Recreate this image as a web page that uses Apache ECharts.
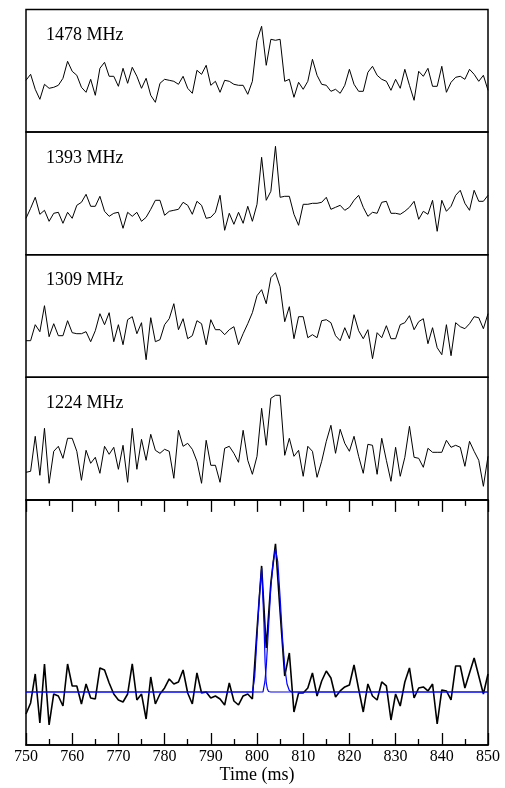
<!DOCTYPE html>
<html><head><meta charset="utf-8">
<script src="https://cdn.jsdelivr.net/npm/echarts@6/dist/echarts.min.js"></script>
<style>html,body{margin:0;padding:0;background:#fff}#c{width:505px;height:788px}</style>
</head><body><div id="c"></div><script>
const times = [750,751,752,753,754,755,756,757,758,759,760,761,762,763,764,765,766,767,768,769,770,771,772,773,774,775,776,777,778,779,780,781,782,783,784,785,786,787,788,789,790,791,792,793,794,795,796,797,798,799,800,801,802,803,804,805,806,807,808,809,810,811,812,813,814,815,816,817,818,819,820,821,822,823,824,825,826,827,828,829,830,831,832,833,834,835,836,837,838,839,840,841,842,843,844,845,846,847,848,849,850];
const freqLabels = ['1478 MHz','1393 MHz','1309 MHz','1224 MHz'];
const flux1478 = [3,9,-6,-16,-1,-5,-4,-2,5,22,12,8,-4,-9,4,-12,15,21,7,7,-3,15,0,16,7,-5,5,-12,-19,0,4,3,2,-1,7,-5,-10,13,9,18,-2,2,-9,3,2,-1,-2,-2,-11,2,43,57,18,44,43,44,2,4,-14,1,-6,2,24,8,-1,-2,-8,-6,-10,-2,14,-1,-8,-8,11,17,8,4,2,-7,4,-5,14,-2,-17,12,7,15,-3,-3,17,-9,1,6,7,4,14,9,2,8,-7];
const flux1393 = [-5,5,16,-1,3,-8,0,1,-10,1,-5,8,11,19,7,7,17,2,-3,0,1,-15,1,-3,1,-8,-4,4,13,13,-2,2,3,4,11,8,-1,12,8,-5,-4,1,18,-17,0,-11,1,-10,7,-8,9,56,13,22,67,16,17,17,-1,-12,9,9,10,10,11,16,4,6,8,3,6,13,18,6,-3,1,0,11,12,0,0,-1,2,6,12,-6,2,-1,13,-18,13,2,7,18,23,10,3,23,12,12,18];
const flux1309 = [-9,-9,7,0,26,-5,8,-4,-4,11,-1,-2,-2,0,-10,1,18,7,19,-10,7,-13,12,15,-2,9,-28,14,-10,-8,7,13,28,2,13,-7,-4,11,8,-13,12,2,2,-3,2,5,-13,-2,8,19,36,42,28,54,59,45,10,25,-7,15,15,-6,-3,-6,11,12,9,-4,-9,4,-7,17,1,-7,2,-27,-1,-6,6,-7,-7,7,9,16,2,10,13,-12,4,-16,-23,7,-24,9,5,3,8,15,14,3,18];
const flux1224 = [-14,-13,22,-17,30,-25,7,12,0,20,20,7,-22,8,-5,1,-15,12,4,11,-11,13,-24,30,-11,19,-2,24,8,5,9,7,-20,28,12,15,9,-3,-25,18,-7,-7,-24,10,12,5,-4,28,-2,-16,2,50,13,60,63,63,3,20,2,8,-18,12,7,-19,-3,17,33,5,29,15,7,22,2,-15,14,13,-16,20,-2,-23,11,-18,1,32,1,0,-9,10,6,6,6,18,11,13,11,-8,17,7,-2,-28,2];
const fluxSum = [-2.2,-1.1,1.8,-3.1,2.8,-3.3,-0.2,-0.4,-1.4,2.8,0.6,0.6,-1.2,0.8,-0.6,-0.7,2.4,2.2,0.9,-0.2,-0.8,-1.0,-0.2,2.8,-0.8,-0.2,-2.7,1.5,-1.2,-0.2,0.4,1.3,0.8,1.0,2.2,-0.1,-1.2,1.9,-0.1,0.0,-0.6,-0.4,-0.7,-1.3,0.9,-0.9,-1.3,-0.4,-0.2,-0.7,6.2,12.6,4.4,10.9,14.8,8.0,1.6,3.9,-2.0,-0.1,-0.1,0.4,1.9,-0.4,1.1,2.1,1.4,-0.5,0.1,0.5,0.7,2.7,0.3,-2.0,0.8,-0.4,-0.8,1.0,0.6,-2.8,-0.2,-1.4,1.0,2.4,-0.6,0.4,0.5,0.1,0.8,-3.2,0.2,0.1,-0.8,2.6,2.6,0.4,1.9,3.4,1.6,-0.2,1.8];
const modelATimes = [750,799,799.25,799.5,800,800.5,801,801.5,801.75,802,802.25,802.5,803,850];
const modelAValues = [0,0,0.1,1.5,5.5,9.5,12.4,7,3,0.9,0.3,0.05,0,0];
const modelBTimes = [750,801.3,801.7,802,802.5,803,803.5,804,804.5,805,805.5,806,806.5,807,807.5,850];
const modelBValues = [0,0,1,2.5,6.5,10.5,13,14.3,13,9.5,5.5,2.5,0.8,0.15,0,0];
const xTickMin = 750, xTickMax = 850, xTickStep = 10;

const pairs = (xs, ys) => xs.map((x, i) => [x, ys[i]]);
const panels = [flux1478, flux1393, flux1309, flux1224];
const panelTops = [9.5, 132.1, 254.7, 377.3];
const panelH = 122.6;
const yRanges = [[-48.8, 73.8], [-41.4, 81.2], [-45.6, 77.0], [-41.6, 81.0]];
const serif = '"Liberation Serif", "Times New Roman", serif';

const grids = [], xAxes = [], yAxes = [], series = [], graphics = [];
panels.forEach((vals, i) => {
  grids.push({left: 26, width: 462, top: panelTops[i], height: panelH, show: true, borderColor: '#000', borderWidth: 1.5, backgroundColor: 'transparent'});
  xAxes.push({type: 'value', gridIndex: i, min: xTickMin, max: xTickMax, show: false});
  yAxes.push({type: 'value', gridIndex: i, min: yRanges[i][0], max: yRanges[i][1], show: false});
  series.push({type: 'line', xAxisIndex: i, yAxisIndex: i, data: pairs(times, vals), showSymbol: false, symbol: 'none',
    lineStyle: {color: '#000', width: 1}, silent: true});
  graphics.push({type: 'text', left: 46, top: panelTops[i] + 17, style: {text: freqLabels[i], font: '18px ' + serif, fill: '#000'}});
});
// bottom panel
grids.push({left: 26, width: 462, top: 499.9, height: 245.1, show: true, borderColor: '#000', borderWidth: 1.5, backgroundColor: 'transparent'});
const tickCommon = {
  axisTick: {show: true, inside: true, length: 12, lineStyle: {color: '#000', width: 1.3}},
  minorTick: {show: true, splitNumber: 2, length: 6, lineStyle: {color: '#000', width: 1.3}},
  splitLine: {show: false}, minorSplitLine: {show: false},
  axisLine: {show: true, onZero: false, lineStyle: {color: '#000', width: 1.5}}
};
xAxes.push(Object.assign({type: 'value', gridIndex: 4, min: xTickMin, max: xTickMax, interval: xTickStep, position: 'bottom',
  axisLabel: {show: true, color: '#000', fontFamily: serif, fontSize: 16, margin: 4, showMinLabel: true, showMaxLabel: true},
  name: 'Time (ms)', nameLocation: 'middle', nameGap: 19,
  nameTextStyle: {color: '#000', fontFamily: serif, fontSize: 18}}, tickCommon));
xAxes.push(Object.assign({type: 'value', gridIndex: 4, min: xTickMin, max: xTickMax, interval: xTickStep, position: 'top',
  axisLabel: {show: false}}, tickCommon));
yAxes.push({type: 'value', gridIndex: 4, min: -5.3, max: 19.2, show: false});
series.push({type: 'line', xAxisIndex: 4, yAxisIndex: 4, data: pairs(times, fluxSum), showSymbol: false, symbol: 'none',
  lineStyle: {color: '#000', width: 1.6}, silent: true});
series.push({type: 'line', xAxisIndex: 4, yAxisIndex: 4, data: pairs(modelATimes, modelAValues), showSymbol: false, symbol: 'none',
  lineStyle: {color: '#0000ff', width: 1.2}, silent: true});
series.push({type: 'line', xAxisIndex: 4, yAxisIndex: 4, data: pairs(modelBTimes, modelBValues), showSymbol: false, symbol: 'none',
  lineStyle: {color: '#0000ff', width: 1.2}, silent: true});

const chart = echarts.init(document.getElementById('c'), null, {renderer: 'canvas'});
chart.setOption({
  animation: false,
  backgroundColor: '#fff',
  grid: grids, xAxis: xAxes, yAxis: yAxes, series: series, graphic: graphics
});
</script></body></html>
